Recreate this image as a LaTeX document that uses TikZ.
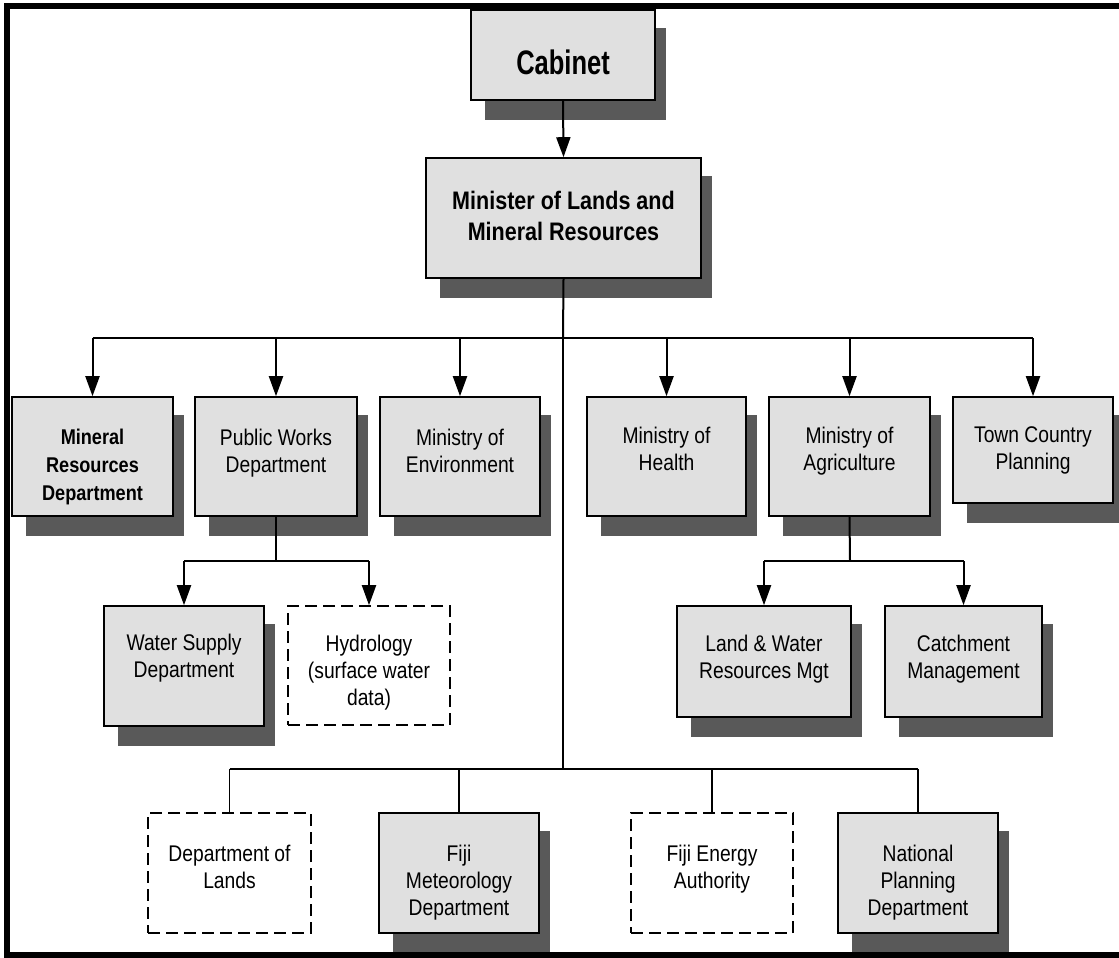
\documentclass[tikz,border=0pt]{standalone}
\usepackage{fontspec}
\setmainfont{Liberation Sans}[FakeStretch=0.85]
\newfontfamily\cabfont{Liberation Sans}[FakeStretch=0.75]
\usetikzlibrary{arrows.meta,calc,fit}
\pgfdeclarelayer{bg}
\pgfsetlayers{bg,main}
\definecolor{boxgray}{HTML}{E0E0E0}
\definecolor{shadowc}{HTML}{595959}
\newcommand\myreg{\fontsize{17pt}{20.25pt}\selectfont}
\newcommand\mybold{\fontsize{16pt}{20.75pt}\selectfont\bfseries}
\newcommand\mycab{\cabfont\fontsize{25.5pt}{28pt}\selectfont\bfseries}
\newcommand\mymin{\fontsize{19pt}{23.25pt}\selectfont\bfseries}
% text block, raised by #1 (negative = lower)
\newcommand\tx[2]{\raisebox{#1}[0pt][0pt]{\begin{tabular}[c]{@{}c@{}}#2\end{tabular}}}
\newcommand\shad[1]{\fill[shadowc] ($(#1.south west)+(15,19)$) rectangle ($(#1.north east)+(10,19)$);}
\tikzset{
  x=0.75pt, y=-0.75pt,
  box/.style={draw=black, line width=1.2pt, fill=boxgray, inner sep=0pt, font=\myreg},
  dbox/.style={draw=black, line width=1.2pt, fill=white, dash pattern=on 9pt off 4.5pt, inner sep=0pt, font=\myreg},
  arr/.style={line width=1.5pt, -{Triangle[length=15pt,width=10.5pt]}},
  link/.style={line width=1.5pt},
  thin link/.style={line width=1pt},
}
\begin{document}
\begin{tikzpicture}
\useasboundingbox (0,0) rectangle (1119,957);
% frame
\draw[line width=4.5pt, line join=miter] (1119,6) -- (7,6) -- (7,955) -- (1119,955);

% top
\node[box, font=\mycab, fit={(471,10) (655,100)}] (cab) {\tx{-15pt}{Cabinet}};
\node[box, font=\mymin, fit={(426,158) (701,278)}] (min) {\tx{-5pt}{Minister of Lands and\\Mineral Resources}};

% row 1
\node[box, font=\mybold, fit={(12,397) (173,516)}] (mrd) {\tx{-12.25pt}{Mineral\\Resources\\Department}};
\node[box, fit={(195,397) (357,516)}] (pwd) {\tx{-2pt}{Public Works\\Department}};
\node[box, fit={(380,397) (540,516)}] (env) {\tx{-2pt}{Ministry of\\Environment}};
\node[box, fit={(587,397) (746,516)}] (hea) {\tx{-0.75pt}{Ministry of\\Health}};
\node[box, fit={(769,397) (930,516)}] (agr) {\tx{-0.75pt}{Ministry of\\Agriculture}};
\node[box, fit={(953,397) (1113,503)}] (tcp) {\tx{-4.5pt}{Town Country\\Planning}};

% row 2
\node[box, fit={(104,606) (264,726)}] (wsd) {\tx{1.25pt}{Water Supply\\Department}};
\node[dbox, fit={(288,606) (450,725)}] (hyd) {\tx{-9.9pt}{Hydrology\\(surface water\\data)}};
\node[box, fit={(677,606) (851,717)}] (lwr) {\tx{-3pt}{Land \& Water\\Resources Mgt}};
\node[box, fit={(885,606) (1042,717)}] (cat) {\tx{-3pt}{Catchment\\Management}};

% row 3
\node[dbox, fit={(148,813) (311,933)}] (lands) {\tx{-1.4pt}{Department of\\Lands}};
\node[box, fit={(379,813) (539,933)}] (met) {\tx{-12pt}{Fiji\\Meteorology\\Department}};
\node[dbox, fit={(631,813) (793,933)}] (fea) {\tx{-1.9pt}{Fiji Energy\\Authority}};
\node[box, fit={(838,813) (998,933)}] (npd) {\tx{-12pt}{National\\Planning\\Department}};

% shadows
\begin{pgfonlayer}{bg}
\shad{cab}\shad{min}
\shad{mrd}\shad{pwd}\shad{env}\shad{hea}\shad{agr}\shad{tcp}
\shad{wsd}\shad{lwr}\shad{cat}
\shad{met}\shad{npd}
\end{pgfonlayer}

% connectors
\coordinate (bus) at (563,338);
\coordinate (lowbus) at (563,769);
\coordinate (pbus) at (276,561);
\coordinate (abus) at (850,561);

\draw[arr] (cab.south) -- (min.north);
\draw[link] (min.south) -- (bus);
\draw[link] (bus -| mrd.north) -- (bus -| tcp.north);
\foreach \n in {mrd,pwd,env,hea,agr,tcp}
  \draw[arr] (bus -| \n.north) -- (\n.north);

\draw[thin link] (bus) -- (lowbus);
\draw[thin link] (lowbus -| lands.north) -- (lowbus -| npd.north);
\foreach \n in {lands,met,fea,npd}
  \draw[thin link] (lowbus -| \n.north) -- (\n.north);

\draw[link] (pwd.south) -- (pbus);
\draw[link] (pbus -| wsd.north) -- (pbus -| hyd.north);
\foreach \n in {wsd,hyd}
  \draw[arr] (pbus -| \n.north) -- (\n.north);

\draw[link] (agr.south) -- (abus);
\draw[link] (abus -| lwr.north) -- (abus -| cat.north);
\foreach \n in {lwr,cat}
  \draw[arr] (abus -| \n.north) -- (\n.north);

% redraw frame bottom over shadows
\draw[line width=4.5pt] (7,955) -- (1119,955);
\end{tikzpicture}
\end{document}
